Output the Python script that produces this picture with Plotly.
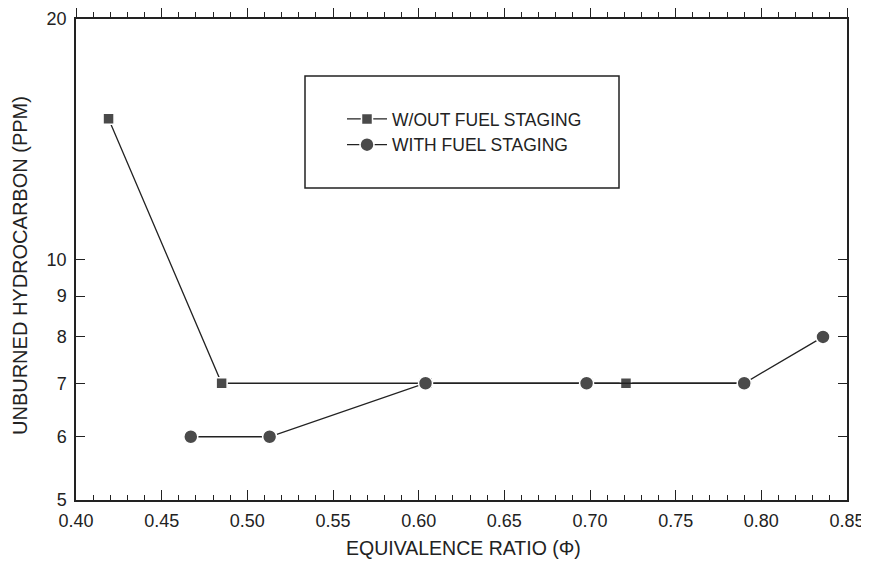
import plotly.graph_objects as go

# Data
phi_wout = [0.419, 0.485, 0.605, 0.721, 0.790]
hc_wout = [15, 7, 7, 7, 7]
phi_with = [0.467, 0.513, 0.604, 0.698, 0.790, 0.836]
hc_with = [6, 6, 7, 7, 7, 8]
x_ticks = [0.40, 0.45, 0.50, 0.55, 0.60, 0.65, 0.70, 0.75, 0.80, 0.85]
y_ticks = [5, 6, 7, 8, 9, 10, 20]

FONT = "Liberation Sans, Arial, sans-serif"
INK = "#222222"
MK = "#4a4a4a"

OFF = 8  # default page body margin
FW, FH = 869 - OFF, 572 - OFF
L, R, T, B = 76, 847, 19, 500  # plot area in window pixels
W, H = R - L, B - T

def px(x):
    return (x - L) / W

def py(y):
    return (B - y) / H

fig = go.Figure()
fig.add_trace(go.Scatter(
    x=phi_wout, y=hc_wout, mode="lines+markers", name="W/OUT FUEL STAGING",
    line=dict(color=INK, width=1.3),
    marker=dict(symbol="square", size=11, color=MK, line=dict(color="white", width=1.5)),
))
fig.add_trace(go.Scatter(
    x=phi_with, y=hc_with, mode="lines+markers", name="WITH FUEL STAGING",
    line=dict(color=INK, width=1.3),
    marker=dict(symbol="circle", size=14, color=MK, line=dict(color="white", width=1.5)),
))
# invisible trace for top axis
fig.add_trace(go.Scatter(x=[x_ticks[0], x_ticks[-1]], y=[y_ticks[0], y_ticks[0]], xaxis="x2",
                         mode="markers", marker=dict(opacity=0), showlegend=False, hoverinfo="skip"))

fig.update_layout(
    width=FW, height=FH,
    margin=dict(l=L - OFF, r=869 - R, t=T - OFF, b=572 - B),
    paper_bgcolor="white", plot_bgcolor="white",
    font=dict(family=FONT, color=INK, size=18),
    showlegend=True,
    legend=dict(x=px(342), y=py(101), xanchor="left", yanchor="top", bgcolor="rgba(0,0,0,0)",
                font=dict(size=17.5, family=FONT, color=INK), tracegroupgap=0,
                itemwidth=40),
    xaxis=dict(
        range=[0.40, 0.85], tickvals=x_ticks, ticktext=[f"{v:.2f}" for v in x_ticks],
        ticks="inside", ticklen=10, tickcolor=INK, tickwidth=1.2,
        minor=dict(dtick=0.01, tick0=0.40, ticks="inside", ticklen=5, tickcolor=INK, tickwidth=1),
        showline=True, linecolor=INK, linewidth=1.5, showgrid=False, zeroline=False,
        tickfont=dict(size=18, family=FONT, color=INK), ticklabelstandoff=4,
        automargin=False,
    ),
    xaxis2=dict(
        overlaying="x", side="top", matches="x", range=[0.40, 0.85],
        tickvals=x_ticks, showticklabels=False,
        ticks="outside", ticklen=9, tickcolor=INK, tickwidth=1.2,
        minor=dict(dtick=0.01, tick0=0.40, ticks="outside", ticklen=5, tickcolor=INK, tickwidth=1),
        showline=True, linecolor=INK, linewidth=1.5, showgrid=False, zeroline=False,
        automargin=False,
    ),
    yaxis=dict(
        type="log", range=[0.69897, 1.30103], tickvals=y_ticks, ticktext=[str(v) for v in y_ticks],
        ticks="inside", ticklen=9, tickcolor=INK, tickwidth=1.2, mirror="ticks",
        showline=True, linecolor=INK, linewidth=1.5, showgrid=False, zeroline=False,
        tickfont=dict(size=18, family=FONT, color=INK), ticklabelstandoff=4,
        automargin=False,
    ),
    shapes=[dict(type="rect", xref="paper", yref="paper",
                 x0=px(305), x1=px(619), y0=py(188), y1=py(76),
                 line=dict(color=INK, width=1.5))],
    annotations=[
        dict(text="EQUIVALENCE RATIO (Φ)", xref="paper", yref="paper", x=px(463), y=py(548),
             xanchor="center", yanchor="middle", showarrow=False,
             font=dict(size=19.5, family=FONT, color=INK)),
        dict(text="UNBURNED HYDROCARBON (PPM)", xref="paper", yref="paper", x=px(20), y=py(266),
             xanchor="center", yanchor="middle", showarrow=False, textangle=-90,
             font=dict(size=20, family=FONT, color=INK)),
    ],
)

fig.write_html("out.html")
